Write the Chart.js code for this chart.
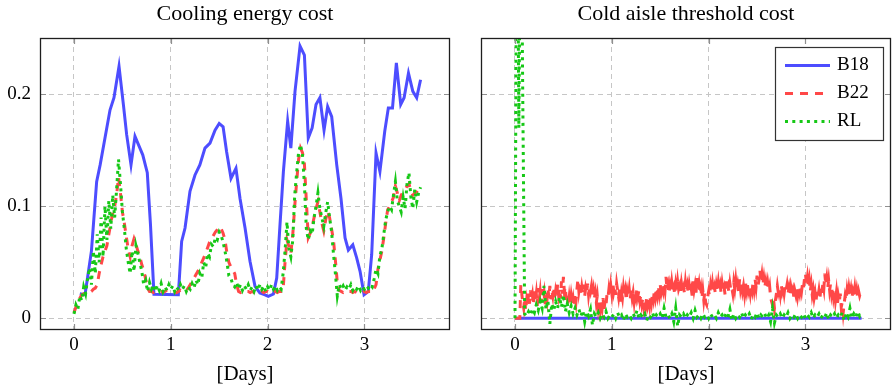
<!DOCTYPE html>
<html>
<head>
<meta charset="utf-8">
<script src="https://cdn.jsdelivr.net/npm/chart.js@4.4.0/dist/chart.umd.min.js"></script>
<style>
  html, body { margin: 0; padding: 0; background: #fff; }
  #wrap { position: relative; width: 895px; height: 389px; overflow: hidden; background: #fff; }
  #wrap canvas { position: absolute; top: 0; }
</style>
</head>
<body>
<div id="wrap">
  <canvas id="cooling" width="455" height="389" style="left:0px"></canvas>
  <canvas id="threshold" width="440" height="389" style="left:455px"></canvas>
</div>
<script>
// ---- data -------------------------------------------------------------
// Most logged costs are sampled every 0.02 days; the B22 threshold cost
// is logged every 0.01 days and the B18 cooling cost roughly hourly.
const SAMPLE_STEP = 0.02;
const FINE_STEP = 0.01;

const b18Days = [
  0.06, 0.114, 0.18, 0.234, 0.27, 0.32, 0.372, 0.413, 0.465, 0.51,
  0.544, 0.589, 0.63, 0.71, 0.757, 0.79, 0.826, 1.078, 1.112, 1.147,
  1.198, 1.25, 1.30, 1.353, 1.405, 1.457, 1.50, 1.54, 1.576, 1.622,
  1.673, 1.715, 1.767, 1.818, 1.87, 1.92, 1.973, 2.007, 2.06, 2.094,
  2.128, 2.163, 2.207, 2.24, 2.283, 2.335, 2.38, 2.42, 2.46, 2.50,
  2.54, 2.583, 2.62, 2.662, 2.714, 2.758, 2.80, 2.834, 2.88, 2.92,
  2.955, 2.996, 3.04, 3.075, 3.12, 3.16, 3.21, 3.247, 3.29, 3.33,
  3.375, 3.41, 3.455, 3.50, 3.54, 3.58
];
const b18Cooling = [
  0.022, 0.021, 0.060, 0.122, 0.137, 0.161, 0.186, 0.197, 0.225, 0.191,
  0.164, 0.137, 0.1625, 0.146, 0.130, 0.0836, 0.0215, 0.0211, 0.0687, 0.0806,
  0.1134, 0.128, 0.137, 0.152, 0.1565, 0.168, 0.174, 0.171, 0.149, 0.125,
  0.134, 0.107, 0.0806, 0.051, 0.0286, 0.0226, 0.021, 0.0196, 0.0217, 0.036,
  0.0836, 0.131, 0.176, 0.152, 0.2027, 0.243, 0.235, 0.161, 0.170, 0.191,
  0.197, 0.168, 0.189, 0.180, 0.137, 0.107, 0.0717, 0.061, 0.0657, 0.054,
  0.042, 0.021, 0.024, 0.0568, 0.1476, 0.131, 0.167, 0.1878, 0.1878, 0.228,
  0.191, 0.197, 0.219, 0.2027, 0.197, 0.213
];

const b22Cooling = [
  0.005, 0.010, 0.014, 0.018, 0.021, 0.022, 0.022, 0.023, 0.023, 0.024,
  0.026, 0.027, 0.030, 0.040, 0.048, 0.055, 0.060, 0.065, 0.075, 0.085,
  0.094, 0.100, 0.110, 0.126, 0.112, 0.095, 0.085, 0.073, 0.062, 0.055,
  0.065, 0.071, 0.066, 0.060, 0.055, 0.048, 0.043, 0.035, 0.027, 0.024,
  0.024, 0.023, 0.024, 0.023, 0.024, 0.024, 0.023, 0.024, 0.025, 0.024,
  0.023, 0.024, 0.024, 0.023, 0.024, 0.025, 0.024, 0.024, 0.025, 0.027,
  0.030, 0.033, 0.036, 0.039, 0.042, 0.046, 0.050, 0.054, 0.058, 0.063,
  0.068, 0.071, 0.074, 0.077, 0.079, 0.082, 0.080, 0.076, 0.070, 0.058,
  0.050, 0.046, 0.043, 0.040, 0.030, 0.024, 0.023, 0.024, 0.023, 0.024,
  0.024, 0.023, 0.024, 0.023, 0.024, 0.024, 0.023, 0.024, 0.023, 0.024,
  0.024, 0.023, 0.024, 0.023, 0.024, 0.023, 0.024, 0.024, 0.026, 0.050,
  0.070, 0.064, 0.058, 0.075, 0.100, 0.122, 0.142, 0.152, 0.148, 0.138,
  0.105, 0.072, 0.076, 0.082, 0.090, 0.098, 0.104, 0.095, 0.085, 0.078,
  0.088, 0.096, 0.090, 0.080, 0.070, 0.052, 0.032, 0.025, 0.024, 0.023,
  0.024, 0.023, 0.024, 0.024, 0.023, 0.024, 0.023, 0.024, 0.024, 0.023,
  0.024, 0.023, 0.024, 0.024, 0.023, 0.026, 0.030, 0.044, 0.052, 0.060,
  0.072, 0.085, 0.097, 0.100, 0.104, 0.108, 0.118, 0.112, 0.105, 0.110,
  0.113, 0.115, 0.118, 0.120, 0.114, 0.110, 0.112, 0.113, 0.116, 0.119
];

const rlCooling = [
  0.004, 0.012, 0.008, 0.020, 0.016, 0.028, 0.022, 0.035, 0.045, 0.030,
  0.060, 0.040, 0.075, 0.050, 0.090, 0.055, 0.100, 0.070, 0.105, 0.080,
  0.110, 0.090, 0.115, 0.142, 0.120, 0.095, 0.080, 0.062, 0.050, 0.040,
  0.060, 0.042, 0.065, 0.058, 0.050, 0.042, 0.030, 0.034, 0.024, 0.032,
  0.026, 0.030, 0.024, 0.029, 0.025, 0.031, 0.024, 0.028, 0.025, 0.030,
  0.026, 0.029, 0.024, 0.028, 0.025, 0.030, 0.026, 0.029, 0.024, 0.028,
  0.026, 0.031, 0.027, 0.034, 0.030, 0.040, 0.036, 0.050, 0.045, 0.058,
  0.055, 0.066, 0.064, 0.072, 0.070, 0.077, 0.074, 0.068, 0.060, 0.050,
  0.038, 0.036, 0.030, 0.028, 0.032, 0.026, 0.030, 0.025, 0.029, 0.026,
  0.030, 0.025, 0.028, 0.024, 0.029, 0.025, 0.030, 0.026, 0.029, 0.024,
  0.028, 0.025, 0.030, 0.026, 0.029, 0.025, 0.028, 0.026, 0.040, 0.060,
  0.086, 0.062, 0.055, 0.070, 0.110, 0.130, 0.148, 0.155, 0.146, 0.120,
  0.080, 0.070, 0.078, 0.075, 0.090, 0.100, 0.112, 0.098, 0.090, 0.082,
  0.094, 0.104, 0.090, 0.078, 0.058, 0.040, 0.020, 0.030, 0.026, 0.029,
  0.025, 0.028, 0.026, 0.030, 0.025, 0.028, 0.026, 0.029, 0.025, 0.028,
  0.026, 0.029, 0.027, 0.030, 0.028, 0.035, 0.044, 0.040, 0.056, 0.062,
  0.075, 0.088, 0.095, 0.100, 0.097, 0.110, 0.122, 0.105, 0.100, 0.095,
  0.108, 0.098, 0.120, 0.130, 0.108, 0.098, 0.115, 0.104, 0.112, 0.117
];

const b18ThresholdDays = [0, 3.58];
const b18Threshold = [0, 0];

// B22 threshold cost, one value every FINE_STEP days
const b22Threshold = [
  0, 0, 0, 0, 0, 0, 0.030, 0.022, 0.014, 0.009,
  0.018, 0.007, 0.016, 0.011, 0.022, 0.013, 0.025, 0.016, 0.021, 0.012,
  0.026, 0.015, 0.022, 0.011, 0.027, 0.017, 0.024, 0.014, 0.026, 0.018,
  0.023, 0.012, 0.021, 0.016, 0.027, 0.018, 0.029, 0.017, 0.025, 0.020,
  0.028, 0.016, 0.024, 0.019, 0.030, 0.021, 0.027, 0.018, 0.033, 0.022,
  0.037, 0.024, 0.028, 0.016, 0.021, 0.011, 0.019, 0.012, 0.020, 0.013,
  0.018, 0.011, 0.022, 0.015, 0.026, 0.035, 0.024, 0.030, 0.021, 0.028,
  0.022, 0.030, 0.020, 0.027, 0.023, 0.031, 0.021, 0.028, 0.024, 0.029,
  0.021, 0.026, 0.018, 0.023, 0.014, 0.020, 0.010, 0.017, 0.008, 0.015,
  0.009, 0.018, 0.007, 0.016, 0.012, 0.021, 0.018, 0.026, 0.020, 0.029,
  0.022, 0.032, 0.024, 0.029, 0.021, 0.031, 0.025, 0.019, 0.027, 0.015,
  0.023, 0.018, 0.027, 0.020, 0.025, 0.016, 0.024, 0.019, 0.026, 0.017,
  0.025, 0.018, 0.023, 0.015, 0.024, 0.019, 0.027, 0.020, 0.025, 0.016,
  0.021, 0.013, 0.018, 0.010, 0.016, 0.011, 0.019, 0.012, 0.017, 0.011,
  0.020, 0.014, 0.022, 0.017, 0.025, 0.019, 0.027, 0.021, 0.029, 0.022,
  0.030, 0.023, 0.028, 0.024, 0.031, 0.025, 0.037, 0.026, 0.030, 0.022,
  0.029, 0.023, 0.032, 0.025, 0.028, 0.021, 0.030, 0.024, 0.033, 0.026,
  0.029, 0.022, 0.031, 0.025, 0.028, 0.023, 0.032, 0.024, 0.029, 0.022,
  0.030, 0.024, 0.027, 0.020, 0.033, 0.025, 0.030, 0.023, 0.036, 0.026,
  0.031, 0.022, 0.027, 0.018, 0.025, 0.016, 0.023, 0.014, 0.012, 0.019,
  0.024, 0.020, 0.029, 0.023, 0.031, 0.024, 0.028, 0.022, 0.030, 0.025,
  0.032, 0.024, 0.029, 0.022, 0.031, 0.025, 0.028, 0.021, 0.033, 0.026,
  0.029, 0.023, 0.031, 0.025, 0.027, 0.022, 0.032, 0.026, 0.034, 0.025,
  0.030, 0.023, 0.035, 0.026, 0.031, 0.024, 0.029, 0.022, 0.033, 0.025,
  0.031, 0.024, 0.028, 0.022, 0.030, 0.025, 0.033, 0.026, 0.035, 0.028,
  0.038, 0.029, 0.034, 0.043, 0.033, 0.039, 0.030, 0.036, 0.028, 0.033,
  0.026, 0.032, 0.025, 0.029, 0.019, 0.015, 0.012, 0.018, 0.009, 0.016,
  0.022, 0.029, 0.023, 0.027, 0.021, 0.030, 0.024, 0.028, 0.022, 0.029,
  0.025, 0.030, 0.022, 0.027, 0.020, 0.028, 0.023, 0.026, 0.019, 0.025,
  0.021, 0.028, 0.020, 0.026, 0.022, 0.029, 0.024, 0.031, 0.027, 0.035,
  0.040, 0.031, 0.037, 0.028, 0.034, 0.024, 0.030, 0.021, 0.026, 0.018,
  0.023, 0.016, 0.024, 0.019, 0.025, 0.018, 0.027, 0.022, 0.031, 0.026,
  0.040, 0.030, 0.036, 0.027, 0.034, 0.025, 0.031, 0.022, 0.028, 0.019,
  0.025, 0.016, 0.023, 0.012, 0.020, 0.015, 0.022, 0.010, 0.014, 0.005,
  0.013, 0.020, 0.016, 0.025, 0.019, 0.027, 0.021, 0.026, 0.018, 0.024,
  0.020, 0.027, 0.019, 0.025, 0.018, 0.024, 0.020, 0.023, 0.021
];

const rlThreshold = [
  0, 0.45, 0.17, 0.42, 0.20, 0.004, 0.002, 0.006, 0.003, 0.008,
  0.005, 0.012, 0.007, 0.015, 0.009, 0.029, 0.008, 0.016, -0.005, 0.013,
  0.007, 0.015, 0.009, 0.019, 0.010, 0.021, 0.006, 0.013, 0.005, 0.011,
  0.004, 0.009, 0.003, 0.008, 0.002, 0.007, -0.003, 0.006, 0.002, 0.008,
  -0.006, 0.004, 0.001, 0.005, 0.000, 0.004, 0.001, 0.006, 0.000, 0.003,
  0.001, 0.004, 0.000, 0.005, 0.001, 0.003, -0.002, 0.004, 0.001, 0.003,
  0.000, 0.004, 0.001, 0.007, 0.000, 0.003, 0.001, 0.004, -0.002, 0.003,
  0.001, 0.005, 0.000, 0.003, 0.001, 0.004, 0.000, 0.009, 0.001, 0.003,
  0.000, 0.004, -0.003, 0.009, -0.007, 0.003, 0.001, 0.004, 0.000, 0.003,
  0.001, 0.005, 0.000, 0.007, 0.001, 0.003, 0.000, 0.004, 0.001, 0.003,
  0.000, 0.004, 0.001, 0.003, 0.000, 0.005, 0.001, 0.003, 0.000, 0.004,
  0.001, 0.008, -0.002, 0.004, 0.000, 0.003, 0.001, 0.005, 0.000, 0.003,
  0.001, 0.004, -0.001, 0.003, 0.001, 0.005, 0.000, 0.003, 0.001, 0.004,
  0.000, 0.003, -0.003, 0.009, -0.004, 0.003, 0.001, 0.004, 0.000, 0.003,
  0.001, 0.005, 0.000, 0.003, 0.001, 0.004, 0.000, 0.003, 0.001, 0.004,
  0.000, 0.003, 0.001, 0.005, 0.000, 0.003, 0.001, 0.004, 0.000, 0.003,
  0.001, 0.005, -0.001, 0.003, 0.001, 0.004, 0.000, 0.003, 0.001, 0.005,
  -0.002, 0.004, 0.001, 0.009, 0.000, 0.004, 0.001, 0.006, 0.002, 0.005
];

const dayTicks = [0, 1, 2, 3];
const costTicks = [0, 0.1, 0.2];

// ---- styling ----------------------------------------------------------
const SERIF = "'Liberation Serif', 'Times New Roman', serif";
const X_MIN = -0.3512, X_MAX = 3.884;
const Y_MIN = -0.01045, Y_MAX = 0.2503;

const STYLE = {
  B18: { borderColor: 'rgb(77,77,255)', borderWidth: 3, borderDash: [], order: 3 },
  B22: { borderColor: 'rgb(255,72,72)', borderWidth: 3, borderDash: [8, 7], order: 2 },
  RL:  { borderColor: 'rgb(22,200,22)', borderWidth: 3, borderDash: [3, 4.3], order: 1 }
};

const paired = (xs, ys) => ys.map((y, i) => ({ x: xs[i], y }));
const sampled = (ys, step) => ys.map((y, i) => ({ x: Math.round(i * step * 1000) / 1000, y }));

function series(label, points) {
  return Object.assign({
    label, data: points, pointRadius: 0, pointHoverRadius: 0,
    tension: 0, fill: false, clip: 0, borderCapStyle: 'butt', borderJoinStyle: 'miter'
  }, STYLE[label]);
}

// Full axis box with short inner tick marks on every side, plus the panel title.
const axisBox = {
  id: 'axisBox',
  afterDatasetsDraw(chart, args, opts) {
    const { ctx, chartArea: a, scales: { x, y } } = chart;
    ctx.save();
    ctx.strokeStyle = '#8f8f8f';
    ctx.lineWidth = 1.2;
    ctx.beginPath();
    x.ticks.forEach(t => {
      const px = Math.round(x.getPixelForValue(t.value)) + 0.5;
      ctx.moveTo(px, a.bottom); ctx.lineTo(px, a.bottom - 6);
      ctx.moveTo(px, a.top); ctx.lineTo(px, a.top + 6);
    });
    y.ticks.forEach(t => {
      const py = Math.round(y.getPixelForValue(t.value)) + 0.5;
      ctx.moveTo(a.left, py); ctx.lineTo(a.left + 6, py);
      ctx.moveTo(a.right, py); ctx.lineTo(a.right - 6, py);
    });
    ctx.stroke();
    ctx.strokeStyle = '#1e1e1e';
    ctx.lineWidth = 1.3;
    ctx.strokeRect(Math.round(a.left) + 0.5, Math.round(a.top) + 0.5,
                   Math.round(a.width) - 1, Math.round(a.height) - 1);
    ctx.restore();
  },
  afterDraw(chart, args, opts) {
    if (!opts.text) return;
    const { ctx, chartArea: a } = chart;
    ctx.save();
    ctx.fillStyle = '#000';
    ctx.font = `${opts.size}px ${SERIF}`;
    ctx.textAlign = 'center';
    ctx.textBaseline = 'middle';
    ctx.fillText(opts.text, (a.left + a.right) / 2, opts.y);
    ctx.restore();
  }
};

// Framed legend in the upper-right corner of the plot area.
const boxLegend = {
  id: 'boxLegend',
  afterDraw(chart, args, opts) {
    if (!opts.display) return;
    const { ctx, chartArea: a } = chart;
    const w = 108, h = 93, row = 28;
    const x0 = Math.round(a.right - 8 - w), y0 = Math.round(a.top + 9);
    ctx.save();
    ctx.fillStyle = '#fff';
    ctx.fillRect(x0, y0, w, h);
    ctx.strokeStyle = '#333';
    ctx.lineWidth = 1.2;
    ctx.strokeRect(x0 + 0.5, y0 + 0.5, w, h);
    chart.data.datasets.forEach((ds, i) => {
      const cy = y0 + 18.5 + i * row;
      ctx.strokeStyle = ds.borderColor;
      ctx.lineWidth = ds.borderWidth;
      ctx.lineCap = 'butt';
      ctx.setLineDash(ds.borderDash || []);
      ctx.beginPath();
      ctx.moveTo(x0 + 10, cy);
      ctx.lineTo(x0 + 55, cy);
      ctx.stroke();
      ctx.setLineDash([]);
      ctx.fillStyle = '#000';
      ctx.font = `19px ${SERIF}`;
      ctx.textAlign = 'left';
      ctx.textBaseline = 'middle';
      ctx.fillText(ds.label, x0 + 62, cy);
    });
    ctx.restore();
  }
};

function panelOptions(title, showYLabels, yAxisWidth, rightPad, legend) {
  return {
    responsive: false,
    devicePixelRatio: 1,
    animation: false,
    events: [],
    layout: { padding: { top: 38, right: rightPad, bottom: 0, left: 0 } },
    plugins: {
      legend: { display: false },
      tooltip: { enabled: false },
      axisBox: { text: title, size: 22, y: 14.5 },
      boxLegend: { display: legend }
    },
    scales: {
      x: {
        type: 'linear', min: X_MIN, max: X_MAX,
        afterBuildTicks: s => { s.ticks = dayTicks.map(v => ({ value: v })); },
        afterFit: s => { s.height = 59; },
        grid: { color: '#c6c6c6', lineWidth: 1, drawTicks: false },
        border: { display: false, dash: [5, 4] },
        ticks: { color: '#000', padding: 4, font: { family: SERIF, size: 19 }, maxRotation: 0,
                 callback: v => String(v) },
        title: { display: true, text: '[Days]', color: '#000',
                 font: { family: SERIF, size: 21 }, padding: { top: 0, bottom: 2 } }
      },
      y: {
        type: 'linear', min: Y_MIN, max: Y_MAX,
        afterBuildTicks: s => { s.ticks = costTicks.map(v => ({ value: v })); },
        afterFit: s => { s.width = yAxisWidth; },
        grid: { color: '#c6c6c6', lineWidth: 1, drawTicks: false },
        border: { display: false, dash: [5, 4] },
        ticks: { display: showYLabels, color: '#000', padding: 9,
                 font: { family: SERIF, size: 19 }, callback: v => String(v) }
      }
    }
  };
}

new Chart(document.getElementById('cooling'), {
  type: 'line',
  data: {
    datasets: [
      series('B18', paired(b18Days, b18Cooling)),
      series('B22', sampled(b22Cooling, SAMPLE_STEP)),
      series('RL', sampled(rlCooling, SAMPLE_STEP))
    ]
  },
  options: panelOptions('Cooling energy cost', true, 40, 5, false),
  plugins: [axisBox, boxLegend]
});

new Chart(document.getElementById('threshold'), {
  type: 'line',
  data: {
    datasets: [
      series('B18', paired(b18ThresholdDays, b18Threshold)),
      series('B22', sampled(b22Threshold, FINE_STEP)),
      series('RL', sampled(rlThreshold, SAMPLE_STEP))
    ]
  },
  options: panelOptions('Cold aisle threshold cost', false, 26, 4, true),
  plugins: [axisBox, boxLegend]
});
</script>
</body>
</html>
